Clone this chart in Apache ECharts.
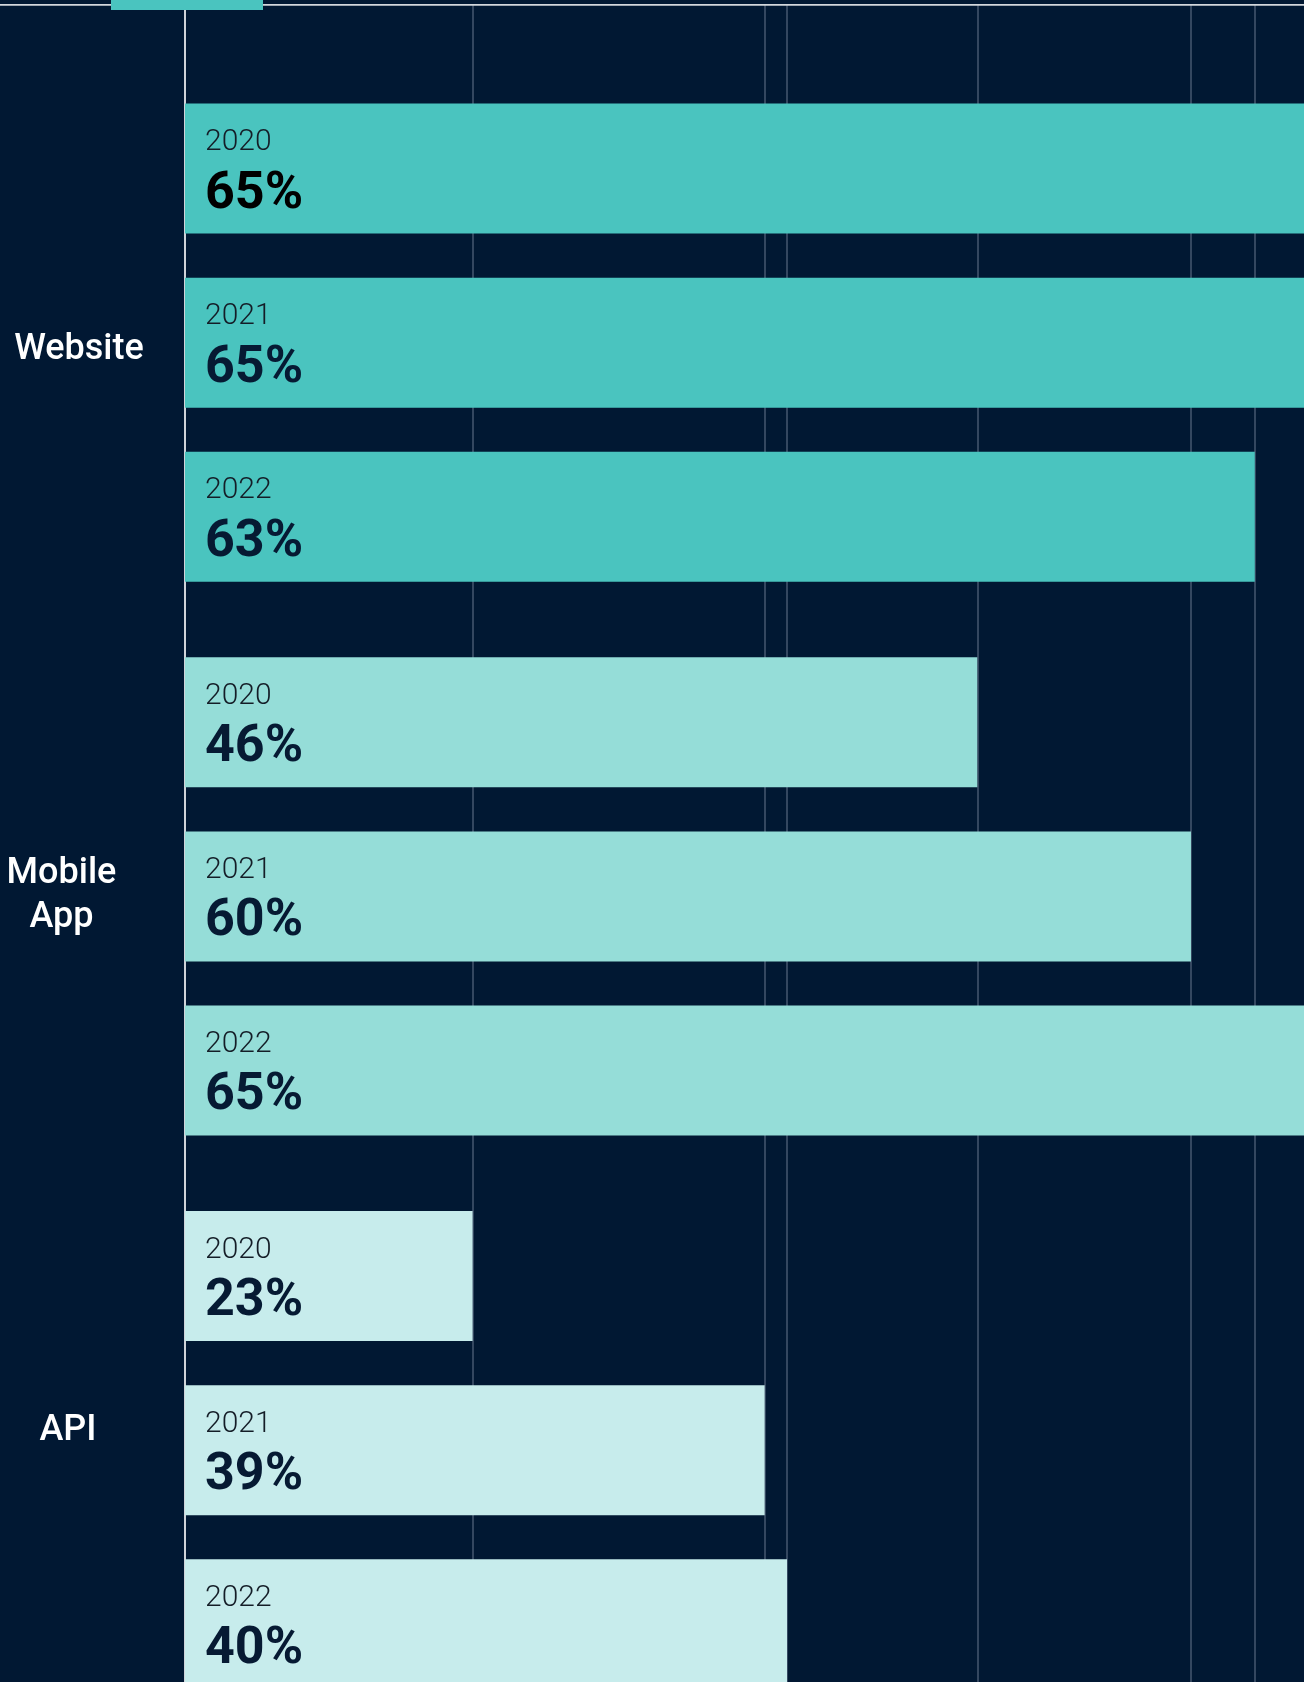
<!DOCTYPE html>
<html>
<head>
<meta charset="utf-8">
<style>
  html, body { margin: 0; padding: 0; background: #011833; }
  #myChart { width: 1304px; height: 1682px; }
</style>
<script src="https://cdn.jsdelivr.net/npm/echarts@6/dist/echarts.min.js"></script>
</head>
<body>
<div id="myChart"></div>
<script>
const categories = ['Website', 'Mobile App', 'API'];
const years = ['2020', '2021', '2022'];
// shares printed inside the bars
const share2020 = [65, 46, 23];
const share2021 = [65, 60, 39];
const share2022 = [63, 65, 40];
// bar lengths as drawn, in % of the visible plot width (65% bars run off the right edge)
const length2020 = [103, 70.8, 25.7];
const length2021 = [103, 89.9, 51.8];
const length2022 = [95.6, 103, 53.8];
const colors = ['#4ac4bf', '#95ddd8', '#c7ecec'];

const shares = [share2020, share2021, share2022];
const lengths = [length2020, length2021, length2022];

const myChart = echarts.init(document.getElementById('myChart'));

// a vertical line at the end of every bar that ends inside the view
const endLines = [];
lengths.forEach(arr => arr.forEach(v => {
    if (v <= 100) endLines.push({ xAxis: v });
}));

function richStyle(valueColor) {
    return {
        y: { fontFamily: 'Roboto', fontWeight: 300, fontSize: 30, lineHeight: 36, color: '#141d27' },
        v: { fontFamily: 'Roboto', fontWeight: 700, fontSize: 52, lineHeight: 68, color: valueColor }
    };
}

const barSeries = years.map((year, i) => {
    return {
        name: year,
        type: 'bar',
        xAxisIndex: 0,
        yAxisIndex: 0,
        barWidth: 130,
        barGap: '33.9%',
        z: 2,
        data: categories.map((c, j) => {
            const item = {
                value: lengths[i][j],
                itemStyle: { color: colors[j] }
            };
            // the very first value is printed in black in the picture
            if (i === 0 && j === 0) item.label = { rich: richStyle('#000000') };
            return item;
        }),
        label: {
            show: true,
            position: [20, 21],
            align: 'left',
            verticalAlign: 'top',
            formatter: p => '{y|' + year + '}\n{v|' + shares[i][p.dataIndex] + '%}',
            rich: richStyle('#061a33')
        }
    };
});

const option = {
    backgroundColor: '#011833',
    animation: false,
    grid: [
        { left: 185, right: 0, top: 65.8, bottom: -45, outerBoundsMode: 'none' },
        { left: 185, right: 0, top: 5, bottom: 0, outerBoundsMode: 'none' }
    ],
    xAxis: [
        { gridIndex: 0, type: 'value', min: 0, max: 100, show: false },
        { gridIndex: 1, type: 'value', min: 0, max: 100, show: false }
    ],
    yAxis: [
        {
            gridIndex: 0,
            type: 'category',
            inverse: true,
            data: [
                { value: categories[0], textStyle: { align: 'center', verticalAlign: 'top', lineHeight: 15, padding: [0, 0, 0, 22] } },
                { value: categories[1], textStyle: { align: 'center', verticalAlign: 'middle', lineHeight: 44, padding: [0, 13, 0, 0] } },
                { value: categories[2], textStyle: { align: 'center', verticalAlign: 'bottom', lineHeight: 38 } }
            ],
            axisLine: { show: false },
            axisTick: { show: false },
            splitLine: { show: false },
            axisLabel: {
                margin: 117,
                align: 'center',
                color: '#ffffff',
                fontFamily: 'Roboto',
                fontWeight: 500,
                fontSize: 36,
                lineHeight: 44,
                formatter: v => v.replace(' ', '\n')
            }
        },
        {
            gridIndex: 1,
            type: 'value',
            min: 0,
            max: 1,
            axisLine: { show: true, lineStyle: { color: '#cfd3d9', width: 2 } },
            axisTick: { show: false },
            axisLabel: { show: false },
            splitLine: { show: false }
        }
    ],
    series: barSeries.concat([{
        type: 'scatter',
        xAxisIndex: 1,
        yAxisIndex: 1,
        data: [[0, 0]],
        symbolSize: 0,
        silent: true,
        z: 1,
        markLine: {
            silent: true,
            z: 1,
            symbol: 'none',
            label: { show: false },
            lineStyle: { color: 'rgba(200,210,225,0.35)', width: 1.5, type: 'solid' },
            data: endLines
        }
    }]),
    graphic: [
        {
            type: 'line',
            z: 10,
            shape: { x1: 0, y1: 4.8, x2: 1304, y2: 4.8 },
            style: { stroke: '#d3d7dc', lineWidth: 1.8 }
        },
        {
            type: 'rect',
            z: 11,
            shape: { x: 111, y: 0, width: 152, height: 10 },
            style: { fill: '#4ac4bf' }
        }
    ]
};

myChart.setOption(option);
window.addEventListener('resize', myChart.resize);
</script>
</body>
</html>
